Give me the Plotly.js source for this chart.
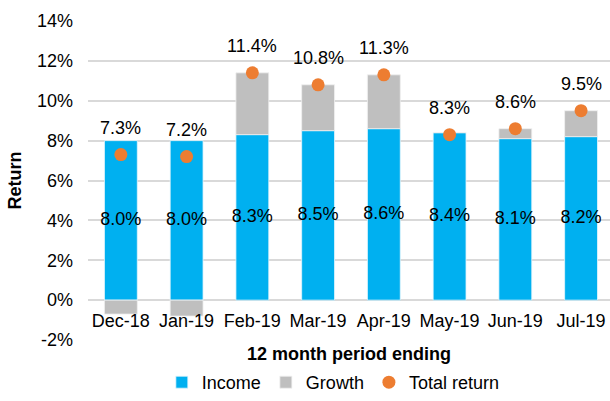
<!DOCTYPE html>
<html>
<head>
<meta charset="utf-8">
<script src="https://cdn.plot.ly/plotly-3.0.1.min.js"></script>
<style>html,body{margin:0;padding:0;background:#fff;}#chart{width:610px;height:401px;}</style>
</head>
<body>
<div id="chart"></div>
<script>
var categories = ["Dec-18","Jan-19","Feb-19","Mar-19","Apr-19","May-19","Jun-19","Jul-19"];
var income = [8.0, 8.0, 8.3, 8.5, 8.6, 8.4, 8.1, 8.2];
var growth = [-0.7, -0.8, 3.1, 2.3, 2.7, 0, 0.5, 1.3];
var totalReturn = [7.3, 7.2, 11.4, 10.8, 11.3, 8.3, 8.6, 9.5];
var yTickVals = [-2, 0, 2, 4, 6, 8, 10, 12, 14];
var yTickText = ["-2%", "0%", "2%", "4%", "6%", "8%", "10%", "12%", "14%"];

var FONT = "Liberation Sans, Arial, sans-serif";
var FS = 18;

var traces = [
  {
    type: "bar", name: "Income", x: categories, y: income,
    marker: {color: "#00B0F0", line: {color: "#E6F6FD", width: 0.8}},
    width: 0.5, hoverinfo: "skip"
  },
  {
    type: "bar", name: "Growth", x: categories, y: growth,
    marker: {color: "#BFBFBF", line: {color: "#F0F0F0", width: 0.8}},
    width: 0.5, hoverinfo: "skip"
  },
  {
    type: "scatter", mode: "markers", name: "Total return", x: categories, y: totalReturn,
    marker: {color: "#ED7D31", size: 13}, hoverinfo: "skip"
  },
  {
    type: "scatter", mode: "text", showlegend: false, x: categories,
    y: income.map(function (v) { return v / 2; }),
    text: income.map(function (v) { return v.toFixed(1) + "%"; }),
    textposition: "middle center",
    textfont: {family: FONT, size: FS, color: "#000"}, hoverinfo: "skip"
  }
];

var annotations = totalReturn.map(function (v, i) {
  return {
    x: categories[i], y: v, xref: "x", yref: "y",
    text: v.toFixed(1) + "%", showarrow: false, yshift: 27,
    font: {family: FONT, size: FS, color: "#000"}
  };
});

var layout = {
  width: 610, height: 401,
  margin: {l: 88, r: 0, t: 21, b: 61, autoexpand: false},
  paper_bgcolor: "#fff", plot_bgcolor: "#fff",
  barmode: "relative",
  font: {family: FONT, color: "#000"},
  xaxis: {
    type: "category", range: [-0.5, 7.44],
    anchor: "free", position: 0.125,
    showgrid: false, zeroline: false, showline: false, ticks: "",
    ticklabelstandoff: 8, automargin: false,
    tickfont: {family: FONT, size: FS, color: "#000"},
    title: {text: "<b>12 month period ending</b>", font: {family: FONT, size: FS, color: "#000"}, standoff: 21}
  },
  yaxis: {
    range: [-2, 14], tickvals: yTickVals, ticktext: yTickText,
    showgrid: true, gridcolor: "#D9D9D9", gridwidth: 2,
    zeroline: false, showline: false, ticks: "",
    ticklabelstandoff: 14, automargin: false,
    tickfont: {family: FONT, size: FS, color: "#000"},
    title: {text: "<b>Return</b>", font: {family: FONT, size: FS, color: "#000"}, standoff: 10}
  },
  legend: {
    orientation: "h", x: 0.47, xanchor: "center",
    yref: "container", y: -0.015, yanchor: "bottom",
    font: {family: FONT, size: FS, color: "#000"},
    itemwidth: 30, tracegroupgap: 0
  },
  annotations: annotations,
  showlegend: true
};

Plotly.newPlot("chart", traces, layout, {displayModeBar: false, staticPlot: true});
</script>
</body>
</html>
